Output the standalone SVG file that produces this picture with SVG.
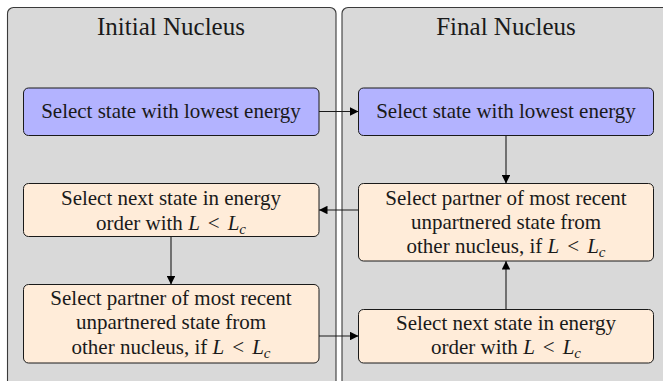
<svg xmlns="http://www.w3.org/2000/svg" width="663" height="381" viewBox="0 0 663 381">
<defs>
<marker id="arr" viewBox="0 0 10 10" refX="10" refY="5" markerWidth="8.5" markerHeight="8.5" markerUnits="userSpaceOnUse" orient="auto">
<path d="M0,0 L10,5 L0,10 Z" fill="#000"/>
</marker>
</defs>
<g fill="#d9d9d9" stroke="#3a3a3a" stroke-width="1.1">
<g id="panel-initial">
<rect x="7.5" y="7.5" width="328.5" height="390" rx="6"/>
<text x="171" y="35" font-family="Times New Roman, Liberation Serif, serif" font-size="25" text-anchor="middle" fill="#1a1a1a" stroke="none">Initial Nucleus</text>
</g>
<g id="panel-final">
<rect x="342" y="7.5" width="340" height="390" rx="6"/>
<text x="506" y="35" font-family="Times New Roman, Liberation Serif, serif" font-size="25" text-anchor="middle" fill="#1a1a1a" stroke="none">Final Nucleus</text>
</g>
</g>
<g id="connectors" stroke="#1a1a1a" stroke-width="1.1" fill="none" marker-end="url(#arr)">
<line x1="319" y1="111.5" x2="358.5" y2="111.5"/>
<line x1="506" y1="135.5" x2="506" y2="183.5"/>
<line x1="358.5" y1="210" x2="319" y2="210"/>
<line x1="171" y1="236.5" x2="171" y2="284.5"/>
<line x1="319" y1="336" x2="358.5" y2="336"/>
<line x1="506" y1="309.5" x2="506" y2="261"/>
</g>
<g font-family="Times New Roman, Liberation Serif, serif" font-size="21" text-anchor="middle" stroke="#1a1a1a" stroke-width="1">
<g id="init-lowest">
<rect fill="#b3b3ff" x="23.5" y="88" width="295.5" height="47.5" rx="5"/>
<text x="171" y="118" fill="#1a1a1a" stroke="none">Select state with lowest energy</text>
</g>
<g id="final-lowest">
<rect fill="#b3b3ff" x="358.5" y="88" width="295" height="47.5" rx="5"/>
<text x="506" y="118" fill="#1a1a1a" stroke="none">Select state with lowest energy</text>
</g>
<g fill="#ffecd9">
<g id="init-next">
<rect x="23.5" y="183.5" width="295.5" height="53" rx="5"/>
<g fill="#1a1a1a" stroke="none">
<text x="171" y="205">Select next state in energy</text>
<text x="171" y="229.5">order with <tspan font-style="italic">L</tspan><tspan dx="8">&lt;</tspan><tspan font-style="italic" dx="8">L</tspan><tspan font-style="italic" font-size="15" dy="4">c</tspan></text>
</g>
</g>
<g id="init-partner">
<rect x="23.5" y="284.5" width="295.5" height="78.5" rx="5"/>
<g fill="#1a1a1a" stroke="none">
<text x="171" y="305">Select partner of most recent</text>
<text x="171" y="329">unpartnered state from</text>
<text x="171" y="353.5">other nucleus, if <tspan font-style="italic">L</tspan><tspan dx="8">&lt;</tspan><tspan font-style="italic" dx="8">L</tspan><tspan font-style="italic" font-size="15" dy="4">c</tspan></text>
</g>
</g>
<g id="final-partner">
<rect x="358.5" y="183.5" width="295" height="77.5" rx="5"/>
<g fill="#1a1a1a" stroke="none">
<text x="506" y="204.5">Select partner of most recent</text>
<text x="506" y="228.5">unpartnered state from</text>
<text x="506" y="252.5">other nucleus, if <tspan font-style="italic">L</tspan><tspan dx="8">&lt;</tspan><tspan font-style="italic" dx="8">L</tspan><tspan font-style="italic" font-size="15" dy="4">c</tspan></text>
</g>
</g>
<g id="final-next">
<rect x="358.5" y="309.5" width="295" height="53.5" rx="5"/>
<g fill="#1a1a1a" stroke="none">
<text x="506" y="330">Select next state in energy</text>
<text x="506" y="353.5">order with <tspan font-style="italic">L</tspan><tspan dx="8">&lt;</tspan><tspan font-style="italic" dx="8">L</tspan><tspan font-style="italic" font-size="15" dy="4">c</tspan></text>
</g>
</g>
</g>
</g>
</svg>
